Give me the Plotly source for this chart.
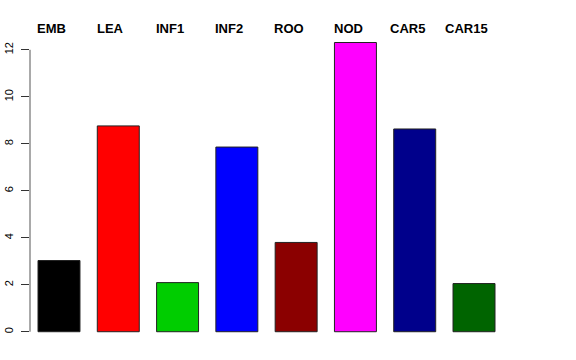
import plotly.graph_objects as go

categories = ["EMB", "LEA", "INF1", "INF2", "ROO", "NOD", "CAR5", "CAR15"]
values = [3.03, 8.76, 2.09, 7.86, 3.80, 12.31, 8.63, 2.05]
colors = ["#000000", "#FF0000", "#00CD00", "#0000FF", "#8B0000", "#FF00FF", "#00008B", "#006400"]
y_ticks = [0, 2, 4, 6, 8, 10, 12]

xpos = list(range(len(categories)))

fig = go.Figure()
fig.add_trace(go.Bar(
    x=xpos, y=values, width=0.708,
    marker=dict(color=colors, line=dict(color="#222222", width=1)),
    hoverinfo="skip",
))

for i, c in enumerate(categories):
    fig.add_annotation(x=i - 0.125, xref="x", y=1.0, yref="paper", yshift=3,
                       text="<b>" + c + "</b>", showarrow=False,
                       font=dict(family="Liberation Sans, Arial", size=13, color="black"),
                       xanchor="center", yanchor="middle")

fig.add_shape(type="line", xref="paper", yref="y", x0=0, x1=0, y0=0, y1=12,
              line=dict(color="#555555", width=1))

fig.update_layout(
    width=576, height=360,
    margin=dict(l=30, r=73, t=31, b=17),
    paper_bgcolor="white", plot_bgcolor="white",
    showlegend=False,
    xaxis=dict(range=[-0.489, 7.489], visible=False, fixedrange=True, automargin=False),
    yaxis=dict(range=[-0.48, 12.8], tickvals=y_ticks, ticktext=[str(v) for v in y_ticks],
               showgrid=False, zeroline=False, showline=False, automargin=False,
               ticks="outside", ticklen=8, tickcolor="#333333", tickwidth=1,
               tickangle=-90, ticklabelstandoff=4,
               tickfont=dict(family="Liberation Sans, Arial", size=11, color="black")),
)

fig.write_html("out.html", config={"displayModeBar": False, "staticPlot": True},
               post_script="document.body.style.margin='0';document.body.style.padding='0';")
